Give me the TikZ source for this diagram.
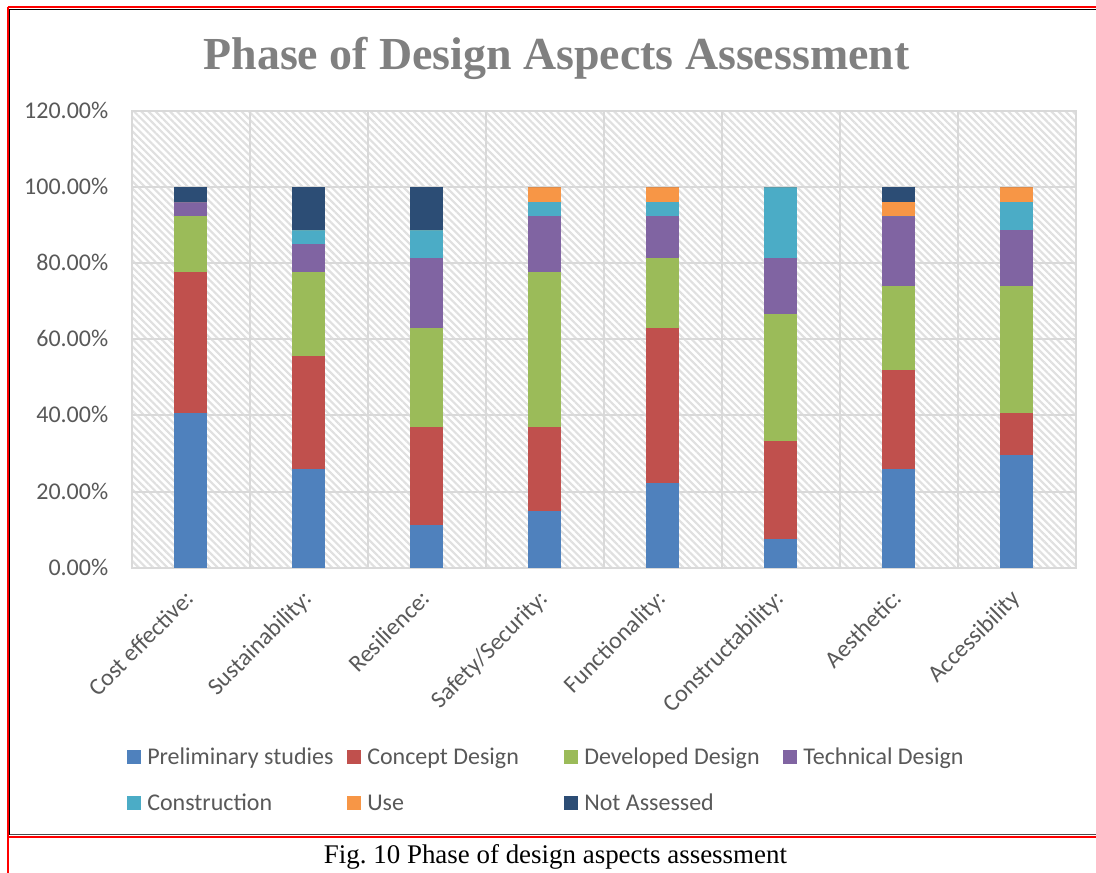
\documentclass[tikz,border=0pt]{standalone}
\usepackage{fontspec}
\setmainfont{Liberation Serif}
\newfontfamily\calib{Carlito}
\usetikzlibrary{patterns.meta}
\definecolor{cA}{HTML}{4F81BD}
\definecolor{cB}{HTML}{C0504D}
\definecolor{cC}{HTML}{9BBB59}
\definecolor{cD}{HTML}{8064A2}
\definecolor{cE}{HTML}{4BACC6}
\definecolor{cF}{HTML}{F79646}
\definecolor{cG}{HTML}{2C4D75}
\definecolor{gridc}{HTML}{D9D9D9}
\definecolor{axtxt}{HTML}{595959}
\definecolor{titlec}{HTML}{808080}
\definecolor{framered}{HTML}{FF0000}
\tikzset{
  axlab/.style={font=\calib\fontsize{18}{21}\selectfont, text=axtxt, inner sep=0pt},
  leglab/.style={font=\calib\fontsize{18}{21}\selectfont, text=axtxt, inner sep=0pt, anchor=base west},
  gridline/.style={draw=gridc, line width=1.5pt},
}
\begin{document}
\frenchspacing
\begin{tikzpicture}[x=0.75pt,y=-0.75pt]
\useasboundingbox (0,0) rectangle (1096,873);
\fill[white] (0,0) rectangle (1096,873);
% frame
\draw[framered, line width=1.5pt] (7.5,7) -- (1096,7);
\draw[black, line width=1.2pt] (9.5,9.5) -- (1096,9.5);
\draw[framered, line width=1.5pt] (7.5,7) -- (7.5,873);
\draw[black, line width=1.2pt] (9.5,9.5) -- (9.5,834.5);
\draw[black!70, line width=1.2pt] (9.5,834.5) -- (1096,834.5);
\draw[framered, line width=2pt] (7.5,837) -- (1096,837);
% title
\node[font=\bfseries\fontsize{34.4}{40}\selectfont, text=titlec, anchor=base, inner sep=0pt] (title) at (556.5,70) {Phase of Design Aspects Assessment};
% plot area
\fill[pattern={Lines[angle=-45,distance=3.8pt,line width=1.6pt]}, pattern color=black!12] (131.5,111.5) rectangle (1075.5,567.5);
\foreach \k in {1,...,5} \draw[gridline] (131.5,{567.5-\k*76}) -- (1075.5,{567.5-\k*76});
\foreach \k in {1,...,7} \draw[gridline] ({131.5+\k*118},111.5) -- ({131.5+\k*118},567.5);
\draw[gridline] (131.5,111.5) rectangle (1075.5,567.5);
% y labels
\foreach \k/\t in {0/0.00\%,1/20.00\%,2/40.00\%,3/60.00\%,4/80.00\%,5/100.00\%,6/120.00\%}
  \node[axlab, anchor=base east] (yl\k) at (108.5,{567.5-\k*76+7.5}) {\t};
% bars: cumulative counts out of 27
\foreach \i/\a/\b/\c/\d/\e/\f/\g in {
  0/11/21/25/26/26/26/27,
  1/7/15/21/23/24/24/27,
  2/3/10/17/22/24/24/27,
  3/4/10/21/25/26/27/27,
  4/6/17/22/25/26/27/27,
  5/2/9/18/22/27/27/27,
  6/7/14/20/25/25/26/27,
  7/8/11/20/24/26/27/27}{
  \pgfmathsetmacro{\cx}{190.5+\i*118}
  \pgfmathsetmacro{\u}{100*3.8/27}
  \fill[cA] ({\cx-16.5},567.5) rectangle ({\cx+16.5},{567.5-\a*\u});
  \fill[cB] ({\cx-16.5},{567.5-\a*\u}) rectangle ({\cx+16.5},{567.5-\b*\u});
  \fill[cC] ({\cx-16.5},{567.5-\b*\u}) rectangle ({\cx+16.5},{567.5-\c*\u});
  \fill[cD] ({\cx-16.5},{567.5-\c*\u}) rectangle ({\cx+16.5},{567.5-\d*\u});
  \fill[cE] ({\cx-16.5},{567.5-\d*\u}) rectangle ({\cx+16.5},{567.5-\e*\u});
  \fill[cF] ({\cx-16.5},{567.5-\e*\u}) rectangle ({\cx+16.5},{567.5-\f*\u});
  \fill[cG] ({\cx-16.5},{567.5-\f*\u}) rectangle ({\cx+16.5},{567.5-\g*\u});
}
% category labels
\foreach \i/\t in {0/Cost effective:,1/Sustainability:,2/Resilience:,3/Safety\slash Security:,4/Functionality:,5/Constructability:,6/Aesthetic:,7/Accessibility}
  \node[axlab, anchor=base east, rotate=45] (cl\i) at ({190.5+\i*118+5},600) {\t};
% legend
\foreach \x/\y/\c/\t/\n in {127/750/cA/Preliminary studies/la,347/750/cB/Concept Design/lb,564/750/cC/Developed Design/lc,783/750/cD/Technical Design/ld,127/796/cE/Construction/le,347/796/cF/Use/lf,564/796/cG/Not Assessed/lg}{
  \fill[\c] (\x,\y) rectangle ({\x+13.5},{\y+13.5});
  \node[leglab] (\n) at ({\x+20},{\y+14}) {\t};
}
% caption
\node[font=\fontsize{20.2}{24}\selectfont, anchor=base, inner sep=0pt] (cap) at (555.5,863) {Fig. 10 Phase of design aspects assessment};
\end{tikzpicture}
\end{document}
